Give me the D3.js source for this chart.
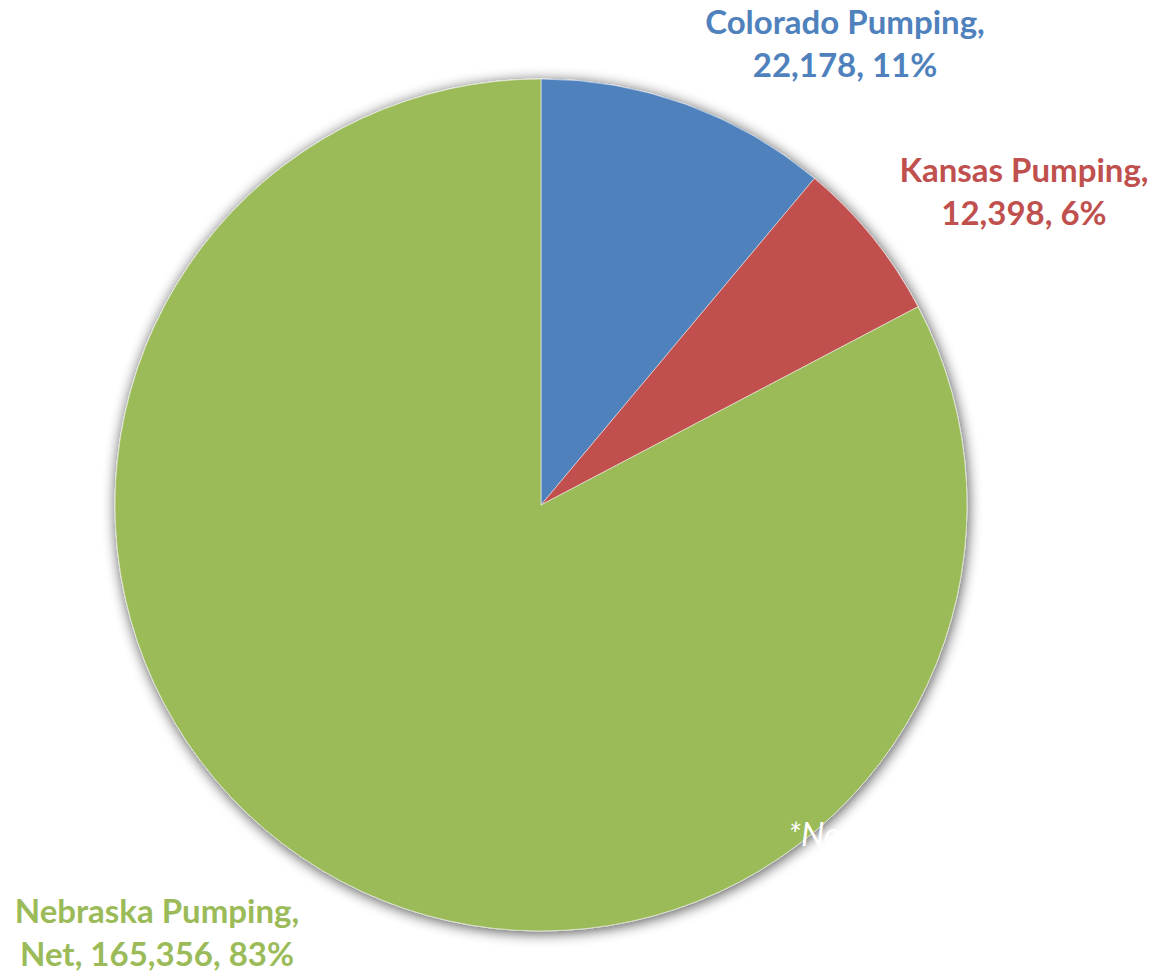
<!DOCTYPE html>
<html>
<head>
<meta charset="utf-8">
<script src="https://cdn.jsdelivr.net/npm/d3@7"></script>
<style>
  html, body { margin: 0; padding: 0; background: #fff; }
  svg { display: block; }
  text { font-family: Lato, "Open Sans", sans-serif; }
</style>
</head>
<body>
<svg id="chart" width="1153" height="973"></svg>
<script>
// Pumping by state
const categories = ["Colorado Pumping", "Kansas Pumping", "Nebraska Pumping, Net"];
const values = [22178, 12398, 165356];
const percentLabels = ["11%", "6%", "83%"];
const colors = ["#4F81BD", "#C0504D", "#9BBB59"];

// label lines for each slice
const labelLines = [
  ["Colorado Pumping,", "22,178, 11%"],
  ["Kansas Pumping,", "12,398, 6%"],
  ["Nebraska Pumping,", "Net, 165,356, 83%"]
];
const labelPos = [[845, 34], [1024, 182], [157, 923]];

const width = 1153, height = 973;
const cx = 541, cy = 505, radius = 426;

const svg = d3.select("#chart");

const defs = svg.append("defs");
const shadow = defs.append("filter").attr("id", "pieShadow")
  .attr("x", "-10%").attr("y", "-10%").attr("width", "120%").attr("height", "120%");
shadow.append("feGaussianBlur").attr("in", "SourceAlpha").attr("stdDeviation", 7).attr("result", "blur");
shadow.append("feOffset").attr("in", "blur").attr("dx", 1).attr("dy", 2).attr("result", "off");
shadow.append("feComponentTransfer").attr("in", "off").attr("result", "soft")
  .append("feFuncA").attr("type", "linear").attr("slope", 0.7);
const merge = shadow.append("feMerge");
merge.append("feMergeNode").attr("in", "soft");
merge.append("feMergeNode").attr("in", "SourceGraphic");

const pie = d3.pie().sort(null).value(d => d)(values);
const arc = d3.arc().innerRadius(0).outerRadius(radius);

const g = svg.append("g").attr("transform", `translate(${cx},${cy})`).attr("filter", "url(#pieShadow)");
g.selectAll("path")
  .data(pie)
  .join("path")
  .attr("d", arc)
  .attr("fill", (d, i) => colors[i])
  .attr("stroke", "rgba(255,255,255,0.5)")
  .attr("stroke-width", 1);

// data labels
labelLines.forEach((lines, i) => {
  const t = svg.append("text")
    .attr("text-anchor", "middle")
    .attr("fill", colors[i])
    .style("font-weight", "bold")
    .attr("font-size", 33);
  lines.forEach((line, j) => {
    t.append("tspan")
      .attr("x", labelPos[i][0])
      .attr("y", labelPos[i][1] + j * 43)
      .text(line);
  });
});

// footnote drawn in white
svg.append("text")
  .attr("x", 788)
  .attr("y", 846)
  .attr("fill", "#fff")
  .attr("font-size", 33)
  .style("font-style", "italic")
  .style("font-weight", "normal")
  .text("*Net");
</script>
</body>
</html>
